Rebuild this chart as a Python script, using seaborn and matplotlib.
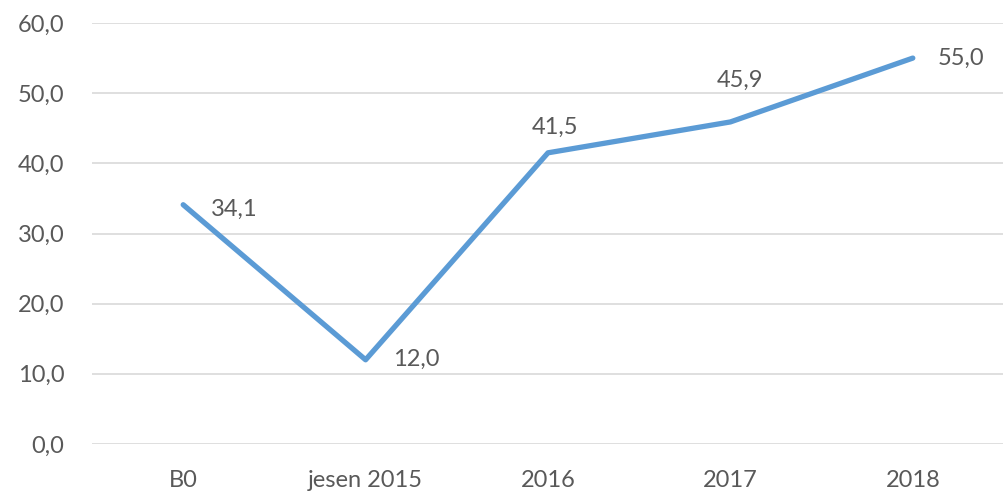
import matplotlib
matplotlib.use("Agg")
import matplotlib.pyplot as plt
import seaborn as sns
import pandas as pd

categories = ["B0", "jesen 2015", "2016", "2017", "2018"]
values = [34.1, 12.0, 41.5, 45.9, 55.0]
y_ticks = [0, 10, 20, 30, 40, 50, 60]

sns.set_style("white")
plt.rcParams["font.family"] = ["Lato", "DejaVu Sans"]

df = pd.DataFrame({"kategorija": categories, "vrednost": values})
df["pos"] = range(len(df))

fig = plt.figure(figsize=(10.04, 4.97), dpi=100)
ax = fig.add_axes([92 / 1004, 53 / 497, 1 - 92 / 1004, (444 - 23) / 497])

sns.lineplot(data=df, x="pos", y="vrednost", ax=ax, color="#5B9BD5",
             linewidth=3.8, solid_capstyle="round", solid_joinstyle="round")

ax.set_xlim(-0.5, len(categories) - 0.5)
ax.set_ylim(0, 60)
ax.set_yticks(y_ticks)
ax.set_yticklabels([f"{v:.1f}".replace(".", ",") for v in y_ticks])
ax.set_xticks(range(len(categories)))
ax.set_xticklabels(categories)
ax.set_xlabel("")
ax.set_ylabel("")

ax.yaxis.grid(True, color="#D9D9D9", linewidth=1.2)
ax.set_axisbelow(True)
for s in ax.spines.values():
    s.set_visible(False)
ax.tick_params(axis="both", length=0, labelsize=17, colors="#595959")
ax.tick_params(axis="y", pad=20)
ax.tick_params(axis="x", pad=19)

# label placement per point: (dx, dy) in points, alignment
offsets = [(20, -3, "left"), (20, 0, "left"), (-12, 18, "left"), (-10, 30, "left"), (18, 0, "left")]
for i, (v, (dx, dy, ha)) in enumerate(zip(values, offsets)):
    ax.annotate(f"{v:.1f}".replace(".", ","), (i, v), xytext=(dx, dy),
                textcoords="offset points", ha=ha, va="center",
                fontsize=17, color="#595959")

fig.savefig("out.png", dpi=100)
